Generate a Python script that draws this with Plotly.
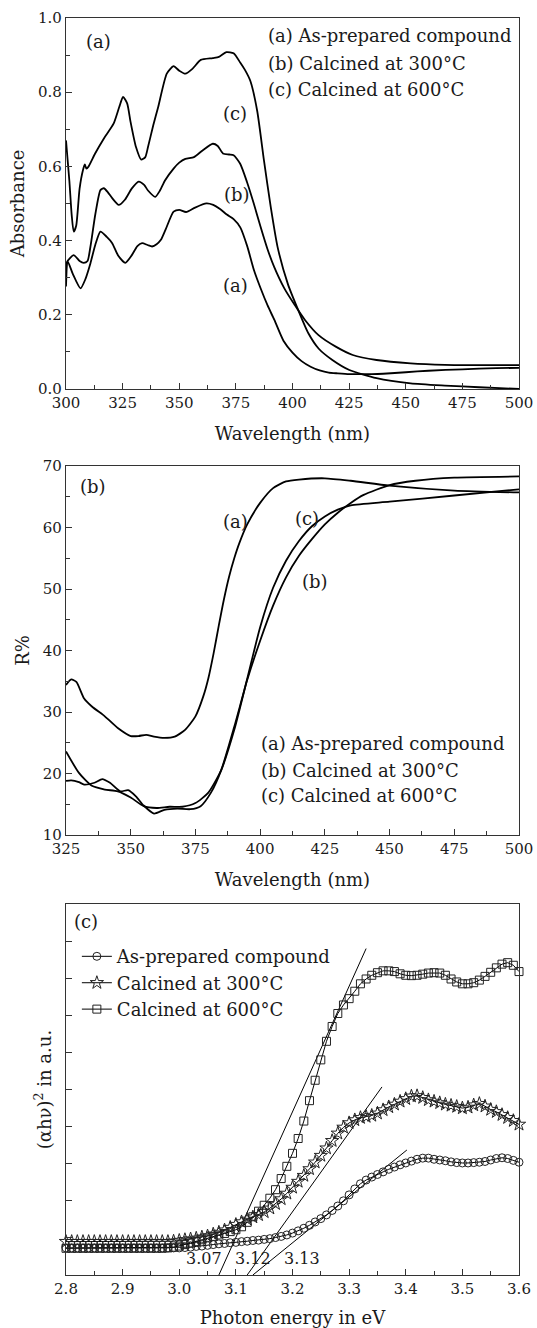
import plotly.graph_objects as go
from plotly.subplots import make_subplots

# ---------------- Panel (a): absorbance ----------------
abs_a_wl = [300, 300.8, 303, 306.4, 308.5, 310.8, 313, 315.2, 318, 320.4, 323, 326.2, 329, 331.5,
            333.6, 336, 338, 340, 341.9, 344, 347.5, 350, 353, 357, 362, 365, 368, 371, 374, 377,
            380, 383, 386, 389, 392, 396, 400, 404, 408, 412, 416, 420, 425, 430, 435, 440, 450,
            460, 475, 490, 500]
abs_a_val = [0.276, 0.343, 0.31, 0.271, 0.295, 0.339, 0.39, 0.424, 0.41, 0.393, 0.36, 0.340, 0.36,
             0.385, 0.393, 0.388, 0.384, 0.39, 0.402, 0.43, 0.478, 0.483, 0.477, 0.489, 0.500, 0.496,
             0.485, 0.47, 0.458, 0.435, 0.385, 0.32, 0.27, 0.225, 0.186, 0.13, 0.098, 0.075, 0.06,
             0.05, 0.044, 0.042, 0.040, 0.040, 0.040, 0.041, 0.045, 0.049, 0.053, 0.056, 0.057]

abs_b_wl = [300, 300.5, 303.4, 306, 307.8, 309.5, 310.8, 313, 315.2, 316.7, 318.5, 320.3, 323.3, 326,
            329, 332.1, 334.5, 336.2, 339.4, 341.5, 343.7, 347.5, 350, 352.7, 356.5, 360.3, 364.8,
            367, 369.3, 372, 374, 376.9, 379.9, 382.9, 385.9, 388.9, 391.9, 396.4, 401, 405.5,
            411.5, 419.1, 426.6, 437.1, 452.2, 467.3, 485, 500]
abs_b_val = [0.32, 0.343, 0.361, 0.345, 0.340, 0.345, 0.384, 0.473, 0.536, 0.541, 0.53, 0.515, 0.496,
             0.51, 0.54, 0.559, 0.55, 0.535, 0.518, 0.535, 0.562, 0.594, 0.61, 0.62, 0.625, 0.643,
             0.661, 0.655, 0.635, 0.632, 0.63, 0.607, 0.558, 0.50, 0.437, 0.378, 0.329, 0.271, 0.226,
             0.186, 0.145, 0.114, 0.0915, 0.078, 0.069, 0.065, 0.064, 0.064]

abs_c_wl = [300, 301.5, 302.5, 303.4, 304.5, 306, 307.5, 308.3, 309, 310, 312.8, 316.6, 321, 323.5,
            325.2, 327, 328.5, 330.9, 333.2, 335, 336.2, 338.5, 340.7, 344.5, 347.5, 350, 352.7,
            355.8, 359.5, 364.8, 367.5, 370.8, 374, 376.9, 379, 381.4, 384.4, 387.4, 390.4, 393.4,
            397.9, 402.5, 407, 411.5, 417.6, 425.1, 437.1, 452.2, 467.3, 482.4, 500]
abs_c_val = [0.67, 0.56, 0.47, 0.424, 0.44, 0.54, 0.59, 0.605, 0.594, 0.60, 0.634, 0.674, 0.715, 0.76,
             0.787, 0.77, 0.72, 0.652, 0.618, 0.625, 0.652, 0.71, 0.76, 0.85, 0.87, 0.858, 0.85,
             0.863, 0.887, 0.892, 0.895, 0.908, 0.905, 0.88, 0.86, 0.83, 0.75, 0.616, 0.49, 0.383,
             0.284, 0.213, 0.15, 0.109, 0.078, 0.051, 0.029, 0.015, 0.009, 0.0045, 0.0]

# ---------------- Panel (b): reflectance ----------------
ref_a_wl = [325, 327, 329, 332, 335, 340, 345, 350, 353, 356, 359, 363, 367, 371, 375, 378, 380, 382,
            384, 386, 388, 390, 392, 395, 400, 405, 410, 415, 425, 435, 450, 475, 500]
ref_a_val = [34.4, 35.3, 34.9, 32.2, 30.9, 29.3, 27.4, 26.1, 26.1, 26.3, 26.0, 25.8, 26.0, 27.1, 29.3,
             32.5, 35.5, 39.5, 44.0, 48.3, 52.0, 55.0, 57.5, 60.5, 64.0, 66.4, 67.5, 67.8, 68.0, 67.6,
             66.8, 66.0, 65.7]

ref_b_wl = [325, 327, 330, 332, 336, 339, 342, 346, 349, 352, 355, 359, 363, 368, 373, 377, 381, 385,
            390, 395, 400, 405, 410, 415, 420, 425, 430, 435, 440, 450, 460, 475, 500]
ref_b_val = [18.8, 18.9, 18.6, 18.2, 18.5, 19.1, 18.5, 17.1, 17.3, 16.3, 14.8, 13.5, 14.1, 14.3, 14.2,
             14.7, 16.9, 20.6, 27.6, 35.2, 41.6, 47.3, 51.9, 55.4, 58.1, 60.5, 62.4, 64.0, 65.3, 66.9,
             67.6, 68.1, 68.3]

ref_c_wl = [325, 330, 335, 340, 345, 350, 355, 360, 365, 370, 375, 380, 385, 390, 395, 400, 405, 410,
            415, 420, 425, 430, 435, 450, 475, 500]
ref_c_val = [23.6, 20.1, 18.0, 17.4, 17.1, 16.1, 14.7, 14.4, 14.6, 14.6, 15.2, 16.9, 20.6, 27.1, 35.4,
             43.8, 50.2, 54.6, 57.8, 60.2, 61.8, 62.9, 63.6, 64.2, 65.2, 66.2]

# ---------------- Panel (c): Tauc plot ----------------
energy = [2.80, 2.81, 2.82, 2.83, 2.84, 2.85, 2.86, 2.87, 2.88, 2.89,
          2.90, 2.91, 2.92, 2.93, 2.94, 2.95, 2.96, 2.97, 2.98, 2.99,
          3.00, 3.01, 3.02, 3.03, 3.04, 3.05, 3.06, 3.07, 3.08, 3.09,
          3.10, 3.11, 3.12, 3.13, 3.14, 3.15, 3.16, 3.17, 3.18, 3.19,
          3.20, 3.21, 3.22, 3.23, 3.24, 3.25, 3.26, 3.27, 3.28, 3.29,
          3.30, 3.31, 3.32, 3.33, 3.34, 3.35, 3.36, 3.37, 3.38, 3.39,
          3.40, 3.41, 3.42, 3.43, 3.44, 3.45, 3.46, 3.47, 3.48, 3.49,
          3.50, 3.51, 3.52, 3.53, 3.54, 3.55, 3.56, 3.57, 3.58, 3.59, 3.60]
tauc_asprep = [0.73, 0.73, 0.73, 0.73, 0.73, 0.73, 0.73, 0.73, 0.73, 0.73,
               0.73, 0.73, 0.73, 0.73, 0.73, 0.73, 0.73, 0.73, 0.73, 0.73,
               0.73, 0.74, 0.75, 0.77, 0.78, 0.80, 0.82, 0.84, 0.85, 0.87,
               0.88, 0.90, 0.91, 0.93, 0.94, 0.96, 0.98, 1.01, 1.04, 1.08,
               1.13, 1.19, 1.26, 1.34, 1.43, 1.52, 1.62, 1.74, 1.86, 2.00,
               2.16, 2.32, 2.46, 2.56, 2.64, 2.71, 2.78, 2.85, 2.91, 2.97,
               3.02, 3.07, 3.12, 3.15, 3.15, 3.12, 3.10, 3.08, 3.05, 3.03,
               3.02, 3.02, 3.03, 3.04, 3.06, 3.10, 3.14, 3.16, 3.14, 3.09, 3.04]
tauc_300 = [0.90, 0.90, 0.90, 0.90, 0.90, 0.90, 0.90, 0.90, 0.90, 0.90,
            0.90, 0.90, 0.90, 0.90, 0.90, 0.90, 0.90, 0.90, 0.90, 0.91,
            0.93, 0.95, 0.97, 0.99, 1.02, 1.05, 1.10, 1.15, 1.21, 1.28,
            1.36, 1.43, 1.50, 1.56, 1.62, 1.70, 1.80, 1.92, 2.05, 2.20,
            2.36, 2.52, 2.68, 2.86, 3.04, 3.22, 3.42, 3.62, 3.82, 3.98,
            4.10, 4.18, 4.24, 4.27, 4.30, 4.36, 4.45, 4.53, 4.60, 4.68,
            4.75, 4.82, 4.83, 4.78, 4.72, 4.68, 4.64, 4.60, 4.57, 4.54,
            4.50, 4.52, 4.58, 4.62, 4.55, 4.46, 4.40, 4.32, 4.24, 4.16, 4.06]
tauc_600 = [0.72, 0.72, 0.72, 0.72, 0.72, 0.72, 0.72, 0.72, 0.72, 0.72,
            0.72, 0.72, 0.72, 0.72, 0.72, 0.72, 0.72, 0.72, 0.73, 0.75,
            0.78, 0.82, 0.86, 0.90, 0.95, 1.00, 1.04, 1.08, 1.12, 1.17,
            1.22, 1.30, 1.42, 1.57, 1.72, 1.88, 2.07, 2.30, 2.60, 2.93,
            3.28, 3.68, 4.15, 4.70, 5.25, 5.80, 6.30, 6.70, 7.05, 7.28,
            7.45, 7.65, 7.85, 7.98, 8.08, 8.15, 8.20, 8.20, 8.18, 8.12,
            8.08, 8.07, 8.08, 8.11, 8.14, 8.15, 8.14, 8.08, 7.98, 7.90,
            7.85, 7.85, 7.88, 7.95, 8.05, 8.16, 8.28, 8.38, 8.42, 8.35, 8.18]

# tangent (extrapolation) lines: [start, end] in eV and a.u.
fit_600_e = [3.07, 3.33]
fit_600_v = [0.0, 8.8]
fit_300_e = [3.12, 3.358]
fit_300_v = [0.0, 5.07]
fit_asprep_e = [3.13, 3.402]
fit_asprep_v = [0.0, 3.37]
gap_labels = ["3.07", "3.12", "3.13"]
gap_label_e = [3.044, 3.131, 3.216]
gap_label_v = [0.45, 0.45, 0.45]

legend_names = ["As-prepared compound", "Calcined at 300°C", "Calcined at 600°C"]
text_legend = ["(a) As-prepared compound", "(b) Calcined at 300°C", "(c) Calcined at 600°C"]

FONT = "DejaVu Serif"
TICK_SIZE = 15
TEXT_SIZE = 18
INK = "#1a1a1a"

fig = make_subplots(rows=3, cols=1)

line_style = dict(color="black", width=1.8, shape="spline", smoothing=0.6)
for wl, val in [(abs_a_wl, abs_a_val), (abs_b_wl, abs_b_val), (abs_c_wl, abs_c_val)]:
    fig.add_trace(go.Scatter(x=wl, y=val, mode="lines", line=line_style, showlegend=False,
                             hoverinfo="skip"), row=1, col=1)
for wl, val in [(ref_a_wl, ref_a_val), (ref_b_wl, ref_b_val), (ref_c_wl, ref_c_val)]:
    fig.add_trace(go.Scatter(x=wl, y=val, mode="lines", line=line_style, showlegend=False,
                             hoverinfo="skip"), row=2, col=1)

# tangent lines
for e, v in [(fit_600_e, fit_600_v), (fit_300_e, fit_300_v), (fit_asprep_e, fit_asprep_v)]:
    fig.add_trace(go.Scatter(x=e, y=v, mode="lines", line=dict(color="black", width=1),
                             showlegend=False, hoverinfo="skip"), row=3, col=1)

symbols = ["circle-open", "star-open", "square-open"]
sizes = [8, 10, 8]
for i, (name, vals) in enumerate(zip(legend_names, [tauc_asprep, tauc_300, tauc_600])):
    fig.add_trace(go.Scatter(
        x=energy, y=vals, mode="lines+markers", name=name,
        line=dict(color="black", width=1),
        marker=dict(symbol=symbols[i], size=sizes[i], color="#222",
                    line=dict(width=1, color="#222")),
        cliponaxis=False, hoverinfo="skip"), row=3, col=1)

# domains
fig.update_layout(
    xaxis=dict(domain=[0, 1], anchor="y"), yaxis=dict(domain=[0.7049, 1.0], anchor="x"),
    xaxis2=dict(domain=[0, 1], anchor="y2"), yaxis2=dict(domain=[0.3500, 0.6436], anchor="x2"),
    xaxis3=dict(domain=[0, 1], anchor="y3"), yaxis3=dict(domain=[0.0, 0.2951], anchor="x3"),
)

axis_common = dict(showline=True, linecolor="#333", linewidth=1.3, mirror=True,
                   ticks="inside", ticklen=6, tickwidth=1, tickcolor="#333",
                   showgrid=False, zeroline=False, automargin=False,
                   tickfont=dict(family=FONT, size=TICK_SIZE, color=INK))
minor_common = dict(ticks="inside", ticklen=3.5, tickwidth=1, tickcolor="#333", showgrid=False)

fig.update_xaxes(**axis_common)
fig.update_yaxes(**axis_common)

title_font = dict(family=FONT, size=TEXT_SIZE, color=INK)
fig.update_xaxes(range=[300, 500], tick0=300, dtick=25, minor=dict(dtick=12.5, **minor_common),
                 title=dict(text="Wavelength (nm)", font=title_font, standoff=16), row=1, col=1)
fig.update_yaxes(range=[0, 1.0], tick0=0, dtick=0.2, tickformat=".1f",
                 minor=dict(dtick=0.1, **minor_common),
                 title=dict(text="Absorbance", font=title_font, standoff=8), row=1, col=1)
fig.update_xaxes(range=[325, 500], tick0=325, dtick=25, minor=dict(dtick=12.5, **minor_common),
                 title=dict(text="Wavelength (nm)", font=title_font, standoff=16), row=2, col=1)
fig.update_yaxes(range=[10, 70], tick0=10, dtick=10, minor=dict(dtick=5, **minor_common),
                 title=dict(text="R%", font=title_font, standoff=8), row=2, col=1)
fig.update_xaxes(range=[2.8, 3.6], tick0=2.8, dtick=0.1, tickformat=".1f",
                 minor=dict(dtick=0.05, **minor_common),
                 title=dict(text="Photon energy in eV", font=title_font, standoff=17), row=3, col=1)
fig.update_yaxes(range=[0, 10], tick0=0, dtick=1, showticklabels=False,
                 title=dict(text="(αhν)<sup>2</sup> in a.u.", font=title_font, standoff=8),
                 row=3, col=1)

ann = []
def add_text(text, x, y, xref, yref, xanchor="center", size=TEXT_SIZE):
    ann.append(dict(text=text, x=x, y=y, xref=xref, yref=yref, xanchor=xanchor, yanchor="middle",
                    showarrow=False, font=dict(family=FONT, size=size, color=INK)))

# panel (a) labels
add_text("(a)", 0.0716, 0.936, "x domain", "y domain")
for t, yy in zip(text_legend, [0.952, 0.878, 0.806]):
    add_text(t, 0.441, yy, "x domain", "y domain", xanchor="left")
add_text("(c)", 0.373, 0.743, "x domain", "y domain")
add_text("(b)", 0.377, 0.523, "x domain", "y domain")
add_text("(a)", 0.375, 0.280, "x domain", "y domain")

# panel (b) labels
add_text("(b)", 0.060, 0.944, "x2 domain", "y2 domain")
add_text("(a)", 0.375, 0.849, "x2 domain", "y2 domain")
add_text("(c)", 0.531, 0.858, "x2 domain", "y2 domain")
add_text("(b)", 0.550, 0.686, "x2 domain", "y2 domain")
for t, yy in zip(text_legend, [0.249, 0.176, 0.108]):
    add_text(t, 0.427, yy, "x2 domain", "y2 domain", xanchor="left")

# panel (c) labels
add_text("(c)", 0.0436, 0.952, "x3 domain", "y3 domain")
for t, e, v in zip(gap_labels, gap_label_e, gap_label_v):
    add_text(t, e, v, "x3", "y3", size=TICK_SIZE + 1)

fig.update_layout(
    width=537, height=1328,
    margin=dict(l=65.5, r=17.5, t=18, b=53, autoexpand=False),
    paper_bgcolor="white", plot_bgcolor="white",
    font=dict(family=FONT, color=INK),
    annotations=ann,
    showlegend=True,
    legend=dict(x=0.024, y=0.268, xanchor="left", yanchor="top",
                bgcolor="rgba(0,0,0,0)", borderwidth=0,
                font=dict(family=FONT, size=TEXT_SIZE, color=INK),
                traceorder="normal", itemwidth=30),
)

fig.write_html("out.html", config={"displayModeBar": False},
               post_script="document.body.style.margin='0px';")
